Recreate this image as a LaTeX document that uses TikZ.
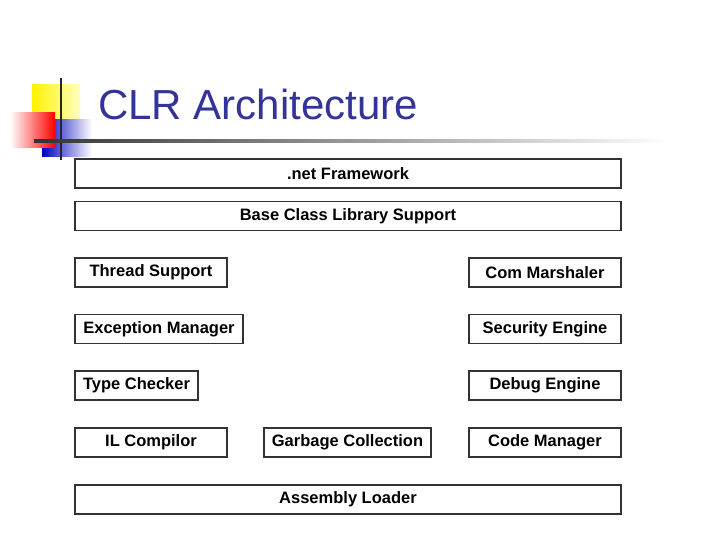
\documentclass[tikz,border=0pt]{standalone}
\usepackage{fontspec}
\setmainfont{Liberation Sans}
\definecolor{ttl}{HTML}{333399}
\begin{document}
\begin{tikzpicture}[x=1pt,y=-1pt,
 box/.style={draw=black!80,line width=1.2pt,minimum height=29pt,inner sep=0pt,font=\fontsize{16.5}{18}\selectfont\bfseries,text=black}]
\useasboundingbox (0,0) rectangle (720,540);
% logo
\shade[left color=yellow!90!orange,right color=yellow!25] (32,85) rectangle (80,120);
\shade[left color=blue!75!black,right color=white] (42,120) rectangle (92,157);
\shade[left color=white,right color=red] (10,113) rectangle (55,148);
\coordinate (vt) at (61,78); \coordinate (vb) at (61,160);
\draw[black!85,line width=2pt] (vt) -- (vb);
\shade[left color=black!80,right color=white] (34,140) rectangle (670,142.5);
\node[anchor=base west,text=ttl,font=\fontsize{42}{46}\selectfont,inner sep=0pt] (title) at (98,120) {CLR Architecture};
% boxes
\node[box,minimum width=546pt] (net) at (348,173.5) {.net Framework};
\node[box,minimum width=546pt] (bcl) at (348,216) {Base Class Library Support};
\node[box,minimum width=152pt] (thr) at (151,272.5) {Thread Support};
\node[box,minimum width=152pt] (com) at (545,272.5) {Com Marshaler};
\node[box,minimum width=168pt] (exc) at (159,329) {Exception Manager};
\node[box,minimum width=152pt] (sec) at (545,329) {Security Engine};
\node[box,minimum width=123pt] (typ) at (136.5,385.5) {Type Checker};
\node[box,minimum width=152pt] (dbg) at (545,385.5) {Debug Engine};
\node[box,minimum width=152pt] (il) at (151,442.5) {IL Compilor};
\node[box,minimum width=167pt] (gc) at (347.5,442.5) {Garbage Collection};
\node[box,minimum width=152pt] (cm) at (545,442.5) {Code Manager};
\node[box,minimum width=546pt] (asm) at (348,499.5) {Assembly Loader};
\end{tikzpicture}
\end{document}
